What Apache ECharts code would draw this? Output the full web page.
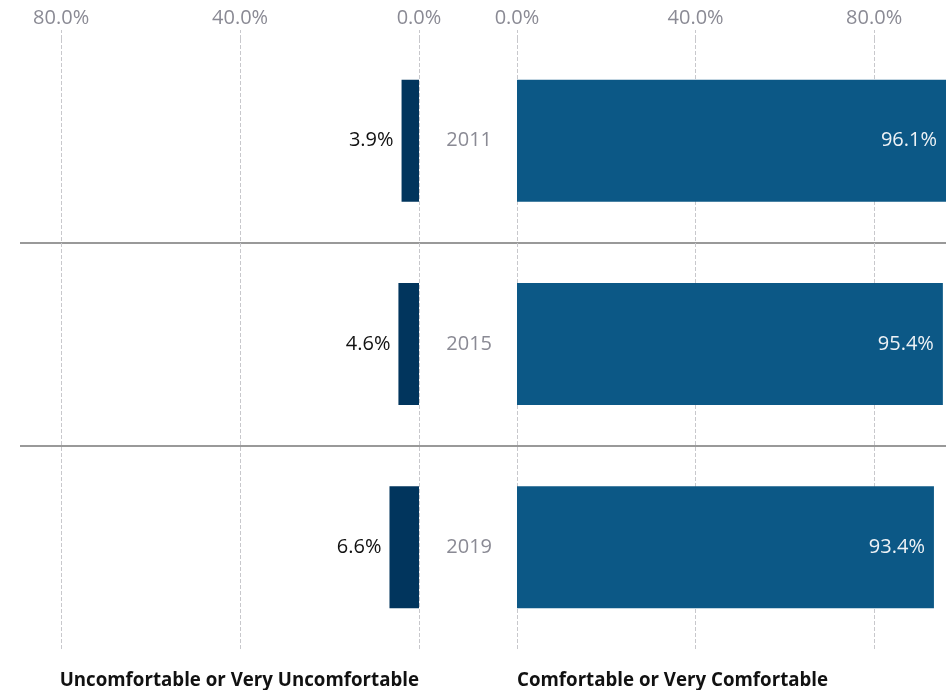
<!DOCTYPE html>
<html>
<head>
<meta charset="utf-8">
<script src="https://cdn.jsdelivr.net/npm/echarts@6/dist/echarts.min.js"></script>
<style>
    html, body { margin: 0; padding: 0; background: #fff; }
    #chart { width: 946px; height: 690px; }
</style>
</head>
<body>
<div id="chart"></div>
<script>
// 年份(类目)
const years = ['2011', '2015', '2019'];
// 不舒适 / 舒适 的比例(%)
const uncomfortable = [3.9, 4.6, 6.6];
const comfortable = [96.1, 95.4, 93.4];

const gray = '#8a8a94';
const font = '"Open Sans", Roboto, sans-serif';

function pct(v) {
    return v.toFixed(1) + '%';
}

// 竖向虚线网格 + 顶部刻度
function valueAxis(gridIndex, inverse, max) {
    return {
        type: 'value',
        gridIndex: gridIndex,
        position: 'top',
        inverse: inverse,
        min: 0,
        max: max,
        interval: 40,
        axisLine: { show: false },
        axisTick: { show: true, length: 9, lineStyle: { color: '#c8c8cc', type: 'dashed' } },
        axisLabel: {
            formatter: pct, color: gray, fontSize: 20, fontFamily: font,
            margin: 11, showMaxLabel: false
        },
        splitLine: {
            show: true, showMaxLine: false,
            lineStyle: { color: '#c8c8cc', type: 'dashed' }
        }
    };
}

let myChart = echarts.init(document.getElementById('chart'));
let option = {
    animation: false,
    title: [{
        text: 'Uncomfortable or Very Uncomfortable',
        right: 522, top: 666,
        textStyle: { fontSize: 18.7, fontWeight: 'bold', color: '#111', fontFamily: font }
    }, {
        text: 'Comfortable or Very Comfortable',
        left: 512, top: 666,
        textStyle: { fontSize: 18.7, fontWeight: 'bold', color: '#111', fontFamily: font }
    }],
    grid: [
        { left: 20, right: 527, top: 39, bottom: 41 },
        { left: 517, right: 0, top: 39, bottom: 41 },
        { left: 20, right: 0, top: 39, bottom: 41 }
    ],
    xAxis: [
        valueAxis(0, true, 89.2),
        valueAxis(1, false, 96.1),
        { type: 'value', gridIndex: 2, min: 0, max: 1, show: false }
    ],
    yAxis: [
        { type: 'category', gridIndex: 0, data: years, inverse: true, show: false },
        {
            type: 'category', gridIndex: 1, data: years, inverse: true,
            axisLine: { show: false }, axisTick: { show: false },
            axisLabel: { color: gray, fontSize: 20, fontFamily: font, margin: 25 }
        },
        {
            type: 'category', gridIndex: 2, data: years, inverse: true,
            axisLine: { show: false }, axisTick: { show: false }, axisLabel: { show: false },
            splitLine: {
                show: true, showMinLine: false, showMaxLine: false,
                lineStyle: { color: '#999', width: 2 }
            }
        }
    ],
    series: [{
        name: 'Uncomfortable or Very Uncomfortable',
        type: 'bar',
        xAxisIndex: 0, yAxisIndex: 0,
        data: uncomfortable,
        barCategoryGap: '40%',
        itemStyle: { color: '#01355d' },
        label: {
            show: true, position: 'left', distance: 8,
            formatter: (p) => pct(p.value),
            color: '#111', fontSize: 20, fontFamily: font
        }
    }, {
        name: 'Comfortable or Very Comfortable',
        type: 'bar',
        xAxisIndex: 1, yAxisIndex: 1,
        data: comfortable,
        barCategoryGap: '40%',
        itemStyle: { color: '#0c5886' },
        label: {
            show: true, position: 'insideRight', distance: 9,
            formatter: (p) => pct(p.value),
            color: '#eef2f6', fontSize: 20, fontFamily: font
        }
    }]
};
myChart.setOption(option);
</script>
</body>
</html>
